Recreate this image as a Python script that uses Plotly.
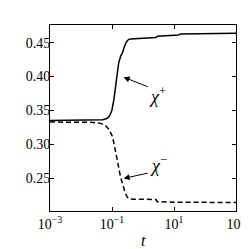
import plotly.graph_objects as go

t_plus = [0.001, 0.01, 0.03, 0.05, 0.065, 0.078, 0.09, 0.1, 0.115, 0.128, 0.145, 0.164, 0.19, 0.22, 0.25, 0.29, 0.34, 0.4, 1.0, 2.6, 2.9, 5, 14, 16.5, 100, 1000]
chi_plus = [0.3352, 0.3353, 0.3356, 0.3362, 0.3375, 0.340, 0.345, 0.351, 0.366, 0.384, 0.404, 0.420, 0.430, 0.436, 0.444, 0.451, 0.4545, 0.4555, 0.4565, 0.4575, 0.4595, 0.4600, 0.4612, 0.4628, 0.4633, 0.4637]

t_minus = [0.001, 0.01, 0.02, 0.04, 0.061, 0.08, 0.1, 0.115, 0.128, 0.145, 0.164, 0.19, 0.21, 0.24, 0.27, 0.31, 0.36, 0.5, 2.6, 2.9, 10, 1000]
chi_minus = [0.3328, 0.3326, 0.3323, 0.3312, 0.328, 0.322, 0.313, 0.302, 0.291, 0.277, 0.264, 0.251, 0.2446, 0.235, 0.2275, 0.222, 0.2195, 0.219, 0.2185, 0.2152, 0.2145, 0.214]

x_tickvals = [0.001, 0.1, 10, 1000]
x_ticktext = ["10<sup>−3</sup>", "10<sup>−1</sup>", "10<sup>1</sup>", "10<sup>3</sup>"]
y_tickvals = [0.25, 0.30, 0.35, 0.40, 0.45]
y_ticktext = ["0.25", "0.30", "0.35", "0.40", "0.45"]

FONT = "Liberation Serif"

fig = go.Figure()
fig.add_trace(go.Scatter(x=t_plus, y=chi_plus, mode="lines",
                         line=dict(color="black", width=1.5)))
fig.add_trace(go.Scatter(x=t_minus, y=chi_minus, mode="lines",
                         line=dict(color="black", width=1.5, dash="5px,3px")))

# annotations with arrows
fig.add_annotation(x=-0.625, y=0.399, ax=0.2, ay=0.384, xref="x", yref="y",
                   axref="x", ayref="y", text="", showarrow=True,
                   arrowhead=2, arrowsize=1.2, arrowwidth=1, arrowcolor="black")
fig.add_annotation(x=0.47, y=0.372, xref="x", yref="y", text="<i>χ</i><sup>+</sup>",
                   showarrow=False, font=dict(family=FONT, size=18, color="black"))
fig.add_annotation(x=-0.625, y=0.2496, ax=0.2, ay=0.2578, xref="x", yref="y",
                   axref="x", ayref="y", text="", showarrow=True,
                   arrowhead=2, arrowsize=1.2, arrowwidth=1, arrowcolor="black")
fig.add_annotation(x=0.49, y=0.270, xref="x", yref="y", text="<i>χ</i><sup>−</sup>",
                   showarrow=False, font=dict(family=FONT, size=18, color="black"))
# x-axis title
fig.add_annotation(x=0.5, y=-0.156, xref="paper", yref="paper", text="<i>t</i>",
                   showarrow=False, yanchor="middle",
                   font=dict(family=FONT, size=16, color="black"))

fig.update_layout(
    width=241, height=241,
    margin=dict(l=41.5, r=13, t=17, b=38),
    paper_bgcolor="white", plot_bgcolor="white",
    showlegend=False,
    font=dict(family=FONT, size=14, color="black"),
    xaxis=dict(type="log", range=[-3, 3], tickvals=x_tickvals, ticktext=x_ticktext,
               ticks="inside", ticklen=4, tickcolor="black", showline=True,
               linecolor="black", linewidth=1, mirror="ticks", showgrid=False,
               zeroline=False, automargin=False,
               tickfont=dict(family=FONT, size=14, color="black")),
    yaxis=dict(range=[0.2015, 0.476], tickvals=y_tickvals, ticktext=y_ticktext,
               ticks="inside", ticklen=4, tickcolor="black", showline=True,
               linecolor="black", linewidth=1, mirror="ticks", showgrid=False,
               zeroline=False, automargin=False, ticklabelstandoff=-4,
               tickfont=dict(family=FONT, size=14, color="black")),
)

fig.write_html("out.html")
